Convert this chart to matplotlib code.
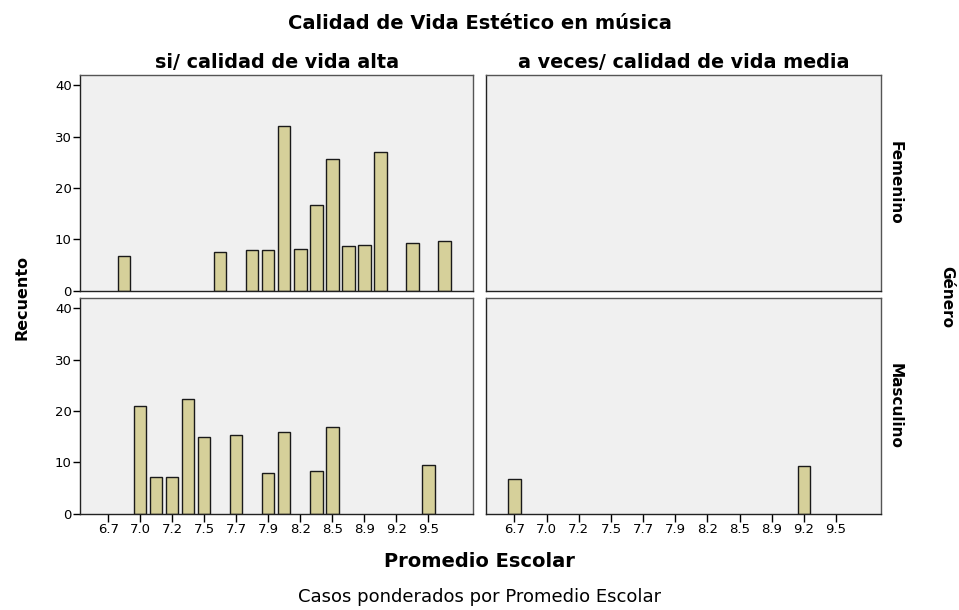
import matplotlib.pyplot as plt
import numpy as np

plt.rcParams['font.family'] = ['DejaVu Sans']

# Promedio Escolar categories (only every other one is labelled on the axis)
categorias = ['6.7', '6.8', '7.0', '7.1', '7.2', '7.3', '7.5', '7.6', '7.7', '7.8', '7.9',
              '8.0', '8.2', '8.3', '8.5', '8.6', '8.9', '9.0', '9.2', '9.3', '9.5', '9.6']
columnas = ['si/ calidad de vida alta', 'a veces/ calidad de vida media']
filas = ['Femenino', 'Masculino']

# weighted counts, one list per panel
fem_alta = [0, 6.8, 0, 0, 0, 0, 0, 7.6, 0, 7.9, 7.9, 32.0, 8.2, 16.7, 25.6, 8.8, 9.0, 27.1, 0, 9.3, 0, 9.6]
fem_media = [0] * 22
mas_alta = [0, 0, 21.0, 7.1, 7.2, 22.3, 15.0, 0, 15.4, 0, 7.9, 16.0, 0, 8.3, 16.9, 0, 0, 0, 0, 0, 9.5, 0]
mas_media = [6.8, 0, 0, 0, 0, 0, 0, 0, 0, 0, 0, 0, 0, 0, 0, 0, 0, 0, 9.2, 0, 0, 0]
paneles = [[fem_alta, fem_media], [mas_alta, mas_media]]

fig = plt.figure(figsize=(9.59, 6.10), dpi=100)
lefts = [0.0834, 0.5068]
widths = [0.410, 0.4119]
bottoms = [0.5234, 0.1579]
height = 0.3534

x = np.arange(len(categorias))
for r in range(2):
    for c in range(2):
        ax = fig.add_axes([lefts[c], bottoms[r], widths[c], height])
        ax.set_facecolor('#f0f0f0')
        vals = np.array(paneles[r][c])
        m = vals > 0
        ax.bar(x[m], vals[m], width=0.77, color='#d6d09a', edgecolor='#1a1a1a', linewidth=1.0)
        ax.set_xlim(-1.77, 22.8)
        ax.set_ylim(0, 42)
        for s in ax.spines.values():
            s.set_color('#555555')
            s.set_linewidth(1.0)
        ax.spines['left'].set_color('#222222')
        ax.spines['bottom'].set_color('#222222')
        if c == 0:
            ax.set_yticks([0, 10, 20, 30, 40])
            ax.tick_params(axis='y', length=5, width=1, labelsize=9.5, pad=1)
        else:
            ax.set_yticks([])
        if r == 1:
            ax.set_xticks(x[::2])
            ax.set_xticklabels(categorias[::2])
            ax.tick_params(axis='x', length=6, width=1, labelsize=9.5, pad=1)
        else:
            ax.set_xticks([])
        if r == 0:
            ax.set_title(columnas[c], fontsize=13.8, fontweight='bold', pad=5)
        if c == 1:
            ax.text(1.035, 0.5, filas[r], transform=ax.transAxes, rotation=-90,
                    ha='center', va='center', fontsize=11, fontweight='bold')

fig.text(0.5, 0.962, 'Calidad de Vida Estético en música', ha='center', va='center',
         fontsize=14, fontweight='bold')
fig.text(0.023, 0.513, 'Recuento', rotation=90, ha='center', va='center',
         fontsize=11.5, fontweight='bold')
fig.text(0.987, 0.513, 'Género', rotation=-90, ha='center', va='center',
         fontsize=11, fontweight='bold')
fig.text(0.5, 0.079, 'Promedio Escolar', ha='center', va='center',
         fontsize=14, fontweight='bold')
fig.text(0.5, 0.021, 'Casos ponderados por Promedio Escolar', ha='center', va='center',
         fontsize=13)

fig.savefig('out.png', dpi=100)
